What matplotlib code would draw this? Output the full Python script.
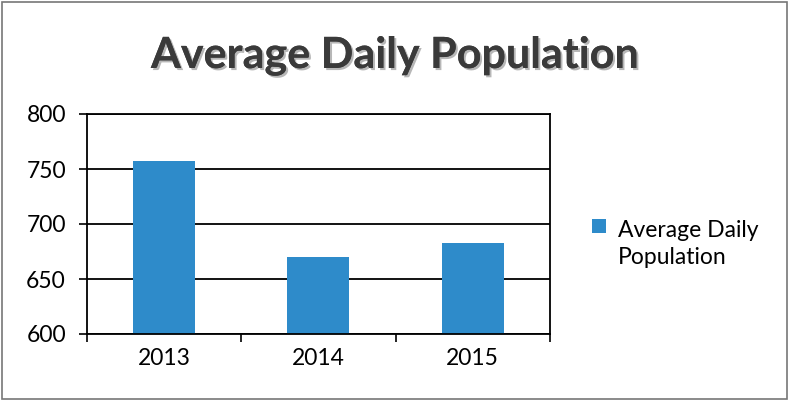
import matplotlib
matplotlib.use('Agg')
import matplotlib.pyplot as plt
import matplotlib.patheffects as pe
from matplotlib.patches import Rectangle
from matplotlib.legend_handler import HandlerPatch

years = ['2013', '2014', '2015']
population = [757, 670, 683]
y_ticks = [600, 650, 700, 750, 800]
series_name = 'Average Daily\nPopulation'

bar_color = '#2e8bca'
plt.rcParams['font.family'] = ['Lato', 'DejaVu Sans']

fig = plt.figure(figsize=(7.89, 4.0), dpi=100)
ax = fig.add_axes([0.110, 0.165, 0.587, 0.55])

x = list(range(len(years)))
bars = ax.bar(x, population, width=0.4, color=bar_color, zorder=2)

ax.set_ylim(600, 800)
ax.set_xlim(-0.5, len(years) - 0.5)
ax.set_yticks(y_ticks)
ax.set_xticks(x)
ax.set_xticklabels(years)
ax.set_xticks([i - 0.5 for i in range(len(years) + 1)], minor=True)
ax.tick_params(axis='x', which='major', length=0, pad=10, labelsize=16.5)
ax.tick_params(axis='x', which='minor', length=6, width=1.2, direction='out')
ax.tick_params(axis='y', length=6, width=1.2, direction='out', pad=9, labelsize=16.5)
ax.grid(axis='y', color='black', linewidth=1.3, zorder=1)
ax.set_axisbelow(True)
for s in ax.spines.values():
    s.set_linewidth(1.3)
    s.set_color('black')

fig.text(0.5, 0.83, 'Average Daily Population', ha='center', va='baseline',
         fontsize=31, fontweight='bold', color='#3a3a3a',
         path_effects=[pe.withSimplePatchShadow(offset=(1.5, -1.5), shadow_rgbFace='#999999', alpha=0.7),
                       pe.Normal()])


def shifted_square(legend, orig_handle, xdescent, ydescent, width, height, fontsize):
    return Rectangle((xdescent + 1, ydescent + height * 0.5 + 8), 10, 10)


leg = fig.legend(handles=[bars.patches[0]], labels=[series_name],
                 loc='center left', bbox_to_anchor=(0.722, 0.39), frameon=False,
                 fontsize=16.5, handlelength=0.9, handletextpad=0.3,
                 handler_map={Rectangle: HandlerPatch(patch_func=shifted_square)})
for t in leg.get_texts():
    t.set_linespacing(1.35)

border = Rectangle((0.002, 0.003), 0.995, 0.993, transform=fig.transFigure,
                   fill=False, edgecolor='#777777', linewidth=1.2)
fig.patches.append(border)

plt.savefig('out.png', dpi=100)
